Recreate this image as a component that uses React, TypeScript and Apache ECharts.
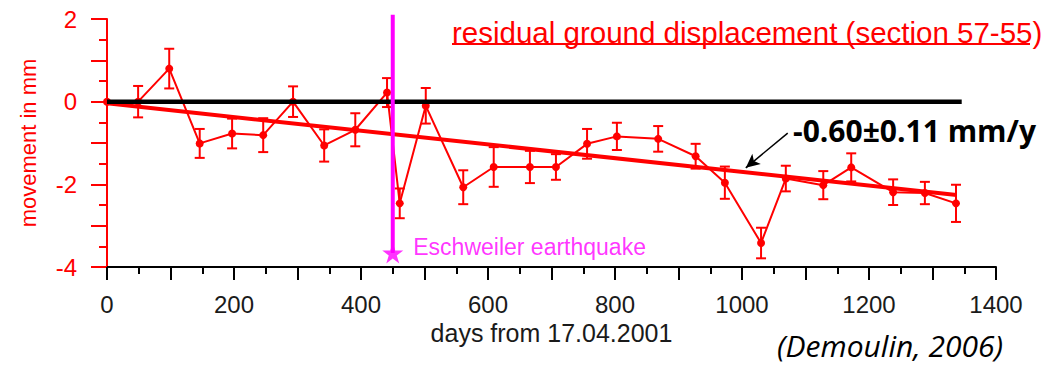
import React, { useEffect, useRef } from "react";
import * as echarts from "echarts";

const days = [0, 49, 98, 146, 197, 246, 293, 342, 391, 441, 461, 502, 561, 609, 666, 707, 756, 803, 868, 927, 973, 1030, 1069, 1128, 1172, 1238, 1288, 1337];
const movement = [0, 0.0, 0.8, -1.01, -0.77, -0.81, 0.0, -1.06, -0.68, 0.22, -2.46, -0.1, -2.07, -1.58, -1.58, -1.58, -1.02, -0.84, -0.9, -1.32, -1.96, -3.42, -1.86, -2.02, -1.59, -2.19, -2.21, -2.46];
const errors = [0, 0.38, 0.48, 0.35, 0.36, 0.41, 0.37, 0.39, 0.4, 0.35, 0.36, 0.43, 0.41, 0.48, 0.39, 0.31, 0.36, 0.33, 0.31, 0.3, 0.39, 0.37, 0.31, 0.34, 0.34, 0.31, 0.27, 0.45];
const trendDays = [0, 1338];
const trendValues = [-0.04, -2.26];
const zeroDays = [0, 1346];
const quakeDay = 450;
const quakeRange = [-3.66, 2.1];
const arrowFrom = [1072, -0.76];
const arrowTo = [1006, -1.6];
const yTicks = [-4, -2, 0, 2];
const xTicks = [0, 200, 400, 600, 800, 1000, 1200, 1400];

const titleText = "residual ground displacement (section 57-55)";
const rateText = "-0.60±0.11 mm/y";
const sourceText = "(Demoulin, 2006)";
const quakeText = "Eschweiler earthquake";

const RED = "#ff0000";
const MAGENTA = "#ff00ff";
const ARIAL = "'Liberation Sans', Arial, sans-serif";

const starPath =
  "path://M50,0 L61.8,35.4 L100,35.4 L69.1,57.3 L80.9,92.7 L50,70.8 L19.1,92.7 L30.9,57.3 L0,35.4 L38.2,35.4 Z";

export default function App() {
  const ref = useRef<HTMLDivElement>(null);
  useEffect(() => {
    document.body.style.margin = "0";
    const chart = echarts.init(ref.current!, null, { renderer: "svg" });
    const points = days.map((d, i) => [d, movement[i]]);
    const errData = days.map((d, i) => [d, movement[i] - errors[i], movement[i] + errors[i]]);
    chart.setOption({
      animation: false,
      grid: { left: 107, right: 63, top: 19, bottom: 99, containLabel: false },
      xAxis: {
        type: "value",
        min: 0,
        max: 1400,
        interval: 100,
        splitLine: { show: false },
        axisLine: { show: true, onZero: false, lineStyle: { color: "#000", width: 2 } },
        axisTick: { show: true, length: 13, lineStyle: { color: "#000", width: 2 } },
        minorTick: { show: true, splitNumber: 2, length: 7, lineStyle: { color: "#000", width: 2 } },
        axisLabel: {
          color: "#1a1a1a",
          fontSize: 24,
          fontFamily: ARIAL,
          margin: 25,
          formatter: (v: number) => (xTicks.indexOf(v) >= 0 ? String(v) : ""),
        },
        name: "days from 17.04.2001",
        nameLocation: "middle",
        nameGap: 65,
        nameTextStyle: { color: "#1a1a1a", fontSize: 25, fontFamily: ARIAL, verticalAlign: "middle" },
      },
      yAxis: {
        type: "value",
        min: -4,
        max: 2,
        interval: 1,
        splitLine: { show: false },
        axisLine: { show: true, onZero: false, lineStyle: { color: RED, width: 2 } },
        axisTick: { show: true, length: 16, lineStyle: { color: RED, width: 2 } },
        minorTick: { show: true, splitNumber: 2, length: 8, lineStyle: { color: RED, width: 2 } },
        axisLabel: {
          color: RED,
          fontSize: 24,
          fontFamily: ARIAL,
          margin: 30,
          formatter: (v: number) => (yTicks.indexOf(v) >= 0 ? String(v) : ""),
        },
        name: "movement in mm",
        nameLocation: "middle",
        nameGap: 79,
        nameTextStyle: { color: RED, fontSize: 22, fontFamily: ARIAL, verticalAlign: "middle" },
      },
      series: [
        {
          type: "custom",
          name: "errors",
          z: 3,
          renderItem: (params: any, api: any) => {
            const x = api.value(0);
            const lo = api.coord([x, api.value(1)]);
            const hi = api.coord([x, api.value(2)]);
            if (Math.abs(hi[1] - lo[1]) < 1) return { type: "group", children: [] };
            const w = 5;
            const style = { stroke: RED, lineWidth: 2 };
            return {
              type: "group",
              children: [
                { type: "line", shape: { x1: lo[0], y1: lo[1], x2: hi[0], y2: hi[1] }, style },
                { type: "line", shape: { x1: lo[0] - w, y1: lo[1], x2: lo[0] + w, y2: lo[1] }, style },
                { type: "line", shape: { x1: hi[0] - w, y1: hi[1], x2: hi[0] + w, y2: hi[1] }, style },
              ],
            };
          },
          data: errData,
        },
        {
          type: "line",
          name: "movement",
          z: 3,
          data: points,
          symbol: "circle",
          symbolSize: 8,
          lineStyle: { color: RED, width: 2 },
          itemStyle: { color: RED },
        },
        {
          type: "line",
          name: "trend",
          z: 4,
          data: trendDays.map((d, i) => [d, trendValues[i]]),
          symbol: "none",
          lineStyle: { color: RED, width: 4 },
          markLine: {
            silent: true,
            symbol: ["none", "arrow"],
            symbolSize: [10, 14],
            label: { show: false },
            lineStyle: { color: "#000", width: 1.5, type: "solid" },
            data: [[{ coord: arrowFrom }, { coord: arrowTo }]],
          },
        },
        {
          type: "line",
          name: "zero",
          z: 5,
          data: zeroDays.map((d) => [d, 0]),
          symbol: "none",
          lineStyle: { color: "#000", width: 4.5 },
        },
        {
          type: "line",
          name: "earthquake",
          z: 6,
          clip: false,
          data: quakeRange.map((v) => [quakeDay, v]),
          symbol: "none",
          lineStyle: { color: MAGENTA, width: 4 },
        },
        {
          type: "scatter",
          name: "earthquake star",
          z: 7,
          clip: false,
          data: [[quakeDay, quakeRange[0]]],
          symbol: starPath,
          symbolSize: 21,
          itemStyle: { color: MAGENTA },
          label: {
            show: true,
            position: "right",
            distance: 10,
            offset: [0, -6],
            formatter: quakeText,
            color: MAGENTA,
            fontSize: 23,
            fontFamily: ARIAL,
          },
        },
      ],
      graphic: [
        {
          type: "text",
          x: 452,
          y: 32,
          style: { text: titleText, fill: RED, fontSize: 29.5, fontFamily: ARIAL, verticalAlign: "middle", align: "left" },
        },
        {
          type: "line",
          shape: { x1: 452, y1: 44, x2: 1030, y2: 44 },
          style: { stroke: RED, lineWidth: 2 },
        },
        {
          type: "text",
          x: 793,
          y: 130,
          style: {
            text: rateText,
            fill: "#000",
            fontSize: 30,
            fontWeight: "bold",
            fontFamily: "'Open Sans', sans-serif",
            verticalAlign: "middle",
            align: "left",
          },
        },
        {
          type: "text",
          x: 777,
          y: 345,
          style: {
            text: sourceText,
            fill: "#000",
            fontSize: 30,
            lineHeight: 30,
            fontStyle: "italic",
            fontFamily: "'Open Sans', sans-serif",
            verticalAlign: "middle",
            align: "left",
          },
        },
      ],
    });
    return () => chart.dispose();
  }, []);
  return <div ref={ref} style={{ width: 1059, height: 366 }} />;
}
